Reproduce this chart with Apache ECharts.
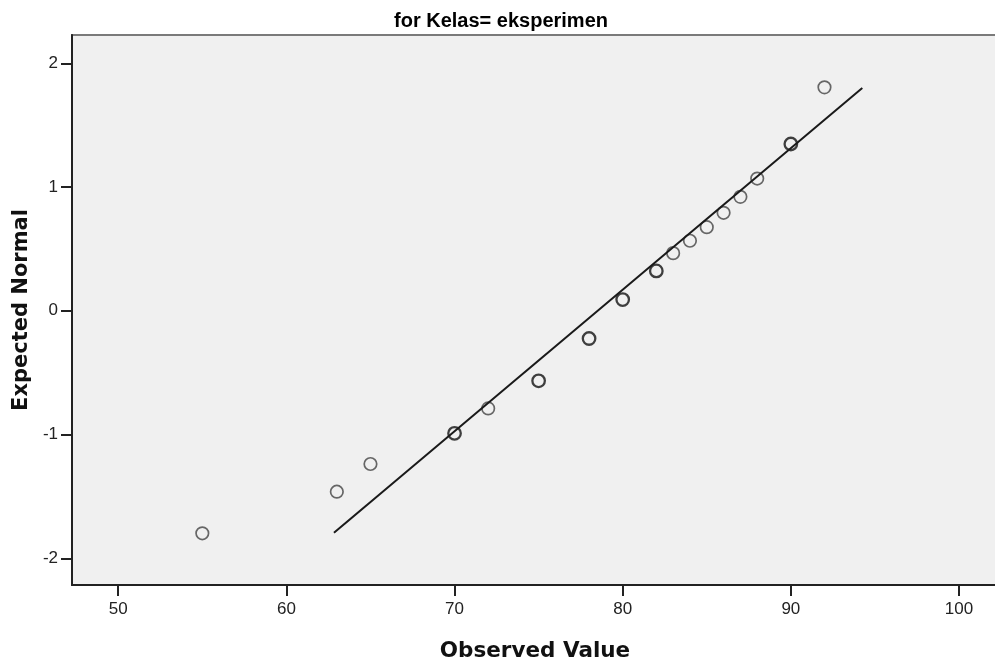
<!DOCTYPE html>
<html>
<head>
<meta charset="utf-8">
<script src="https://cdn.jsdelivr.net/npm/echarts@6/dist/echarts.min.js"></script>
<style>html,body{margin:0;padding:0;background:#fff;}#c{width:995px;height:663px;}</style>
</head>
<body>
<div id="c"></div>
<script>
// Observed values and their expected normal quantiles
var observedValues = [55, 63, 65, 70, 72, 75, 78, 80, 82, 83, 84, 85, 86, 87, 88, 90, 92];
var expectedNormal = [-1.798, -1.462, -1.238, -0.990, -0.789, -0.566, -0.224, 0.091, 0.322, 0.466, 0.566, 0.676, 0.792, 0.921, 1.069, 1.348, 1.806];
var frequency = [1, 1, 1, 2, 1, 2, 2, 2, 2, 1, 1, 1, 1, 1, 1, 2, 1];
// Reference line end points
var lineX = [62.83, 94.25];
var lineY = [-1.793, 1.80];
var xTicks = [50, 60, 70, 80, 90, 100];
var yTicks = [-2, -1, 0, 1, 2];
var titleText = 'for Kelas= eksperimen';
var xName = 'Observed Value';
var yName = 'Expected Normal';

var singles = [], ties = [];
observedValues.forEach(function (v, i) {
  (frequency[i] > 1 ? ties : singles).push([v, expectedNormal[i]]);
});
var lineData = lineX.map(function (v, i) { return [v, lineY[i]]; });

var chart = echarts.init(document.getElementById('c'), null, {renderer: 'canvas'});
chart.setOption({
  animation: false,
  backgroundColor: '#ffffff',
  title: {
    text: titleText, left: 496, top: 6, textAlign: 'center',
    textStyle: {fontFamily: 'Liberation Sans', fontWeight: 'bold', fontSize: 20, color: '#000'}
  },
  grid: {
    left: 72, top: 35, right: -3, bottom: 78,
    outerBoundsMode: 'none', containLabel: false,
    show: true, backgroundColor: '#f0f0f0', borderColor: '#7a7a7a', borderWidth: 2
  },
  xAxis: {
    type: 'value', min: 47.25, max: 102.32,
    name: xName, nameLocation: 'middle', nameGap: 55,
    nameTextStyle: {fontFamily: 'DejaVu Sans', fontWeight: 'bold', fontSize: 21.5, color: '#111'},
    axisLine: {show: true, onZero: false, lineStyle: {color: '#222', width: 2}},
    axisTick: {show: true, length: 11, customValues: xTicks, lineStyle: {color: '#222', width: 2}},
    axisLabel: {customValues: xTicks, margin: 16, fontFamily: 'Liberation Sans', fontSize: 17, color: '#222'},
    splitLine: {show: false}
  },
  yAxis: {
    type: 'value', min: -2.216, max: 2.229,
    name: yName, nameLocation: 'middle', nameGap: 36, nameRotate: 90,
    nameTextStyle: {fontFamily: 'DejaVu Sans', fontWeight: 'bold', fontSize: 21, color: '#111'},
    axisLine: {show: true, onZero: false, lineStyle: {color: '#222', width: 2}},
    axisTick: {show: true, length: 11, customValues: yTicks, lineStyle: {color: '#222', width: 2}},
    axisLabel: {customValues: yTicks, margin: 14, fontFamily: 'Liberation Sans', fontSize: 17, color: '#222'},
    splitLine: {show: false}
  },
  series: [
    {
      type: 'line', data: lineData, symbol: 'none', silent: true,
      lineStyle: {color: '#1a1a1a', width: 2}
    },
    {
      type: 'scatter', data: singles, symbol: 'circle', symbolSize: 12.5,
      itemStyle: {color: 'rgba(0,0,0,0)', borderColor: '#444', borderWidth: 1.7}
    },
    {
      type: 'scatter', data: ties, symbol: 'circle', symbolSize: 12.5,
      itemStyle: {color: 'rgba(0,0,0,0)', borderColor: '#111', borderWidth: 2.3}
    }
  ]
});
</script>
</body>
</html>
